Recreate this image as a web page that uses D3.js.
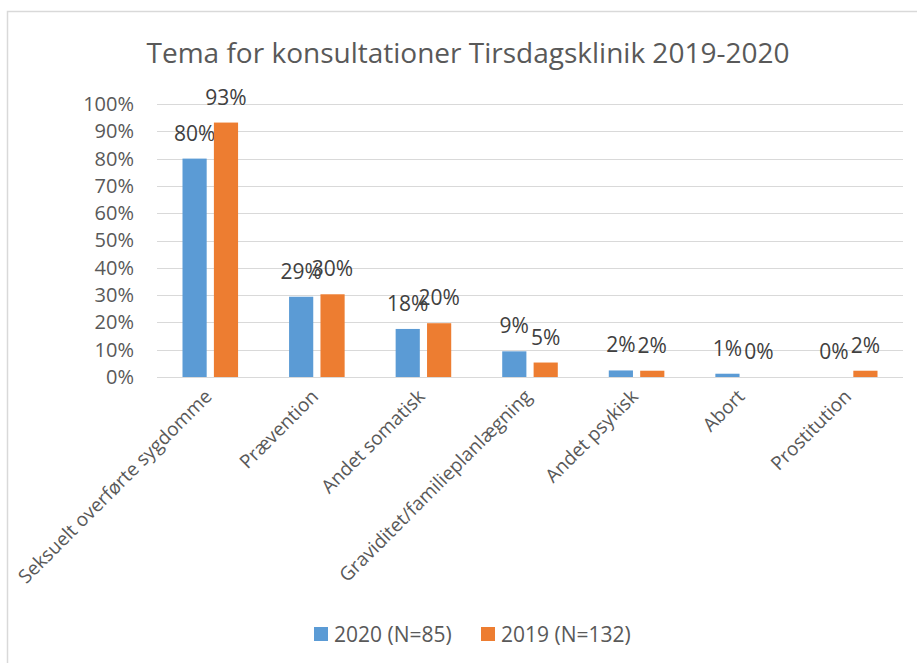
<!DOCTYPE html>
<html>
<head>
<meta charset="utf-8">
<script src="https://cdn.jsdelivr.net/npm/d3@7"></script>
<style>
body { margin: 0; background: #fff; }
text { font-family: "Open Sans", sans-serif; }
</style>
</head>
<body>
<script>
var categories = ["Seksuelt overførte sygdomme", "Prævention", "Andet somatisk",
	"Graviditet/familieplanlægning", "Andet psykisk", "Abort", "Prostitution"];
var series2020 = [0.80, 0.294, 0.176, 0.094, 0.024, 0.012, 0];
var series2019 = [0.932, 0.303, 0.197, 0.053, 0.023, 0, 0.023];
var seriesNames = ["2020 (N=85)", "2019 (N=132)"];
var colors = ["#5B9BD5", "#ED7D31"];
var yTicks = [0, 0.1, 0.2, 0.3, 0.4, 0.5, 0.6, 0.7, 0.8, 0.9, 1.0];

var width = 917, height = 663;
var margin = {left: 157, right: 14, top: 104, bottom: 286};
var plotW = width - margin.left - margin.right;
var plotH = height - margin.top - margin.bottom;

var svg = d3.select("body").append("svg")
	.attr("width", width)
	.attr("height", height);

// chart frame
svg.append("path")
	.attr("d", "M7.5," + height + "V11.5H" + width)
	.attr("fill", "none")
	.attr("stroke", "#D9D9D9")
	.attr("stroke-width", 1.5);

svg.append("text")
	.attr("x", 468)
	.attr("y", 63)
	.attr("text-anchor", "middle")
	.attr("fill", "#595959")
	.style("font-size", "28px")
	.text("Tema for konsultationer Tirsdagsklinik 2019-2020");

var g = svg.append("g")
	.attr("transform", "translate(" + margin.left + "," + margin.top + ")");

var x = d3.scaleBand()
	.domain(categories)
	.range([0, plotW]);

var x1 = d3.scaleBand()
	.domain([0, 1])
	.range([25.5, x.bandwidth() - 25.5])
	.paddingInner(0.23);

var y = d3.scaleLinear()
	.domain([0, 1])
	.range([plotH, 0]);

// gridlines
g.selectAll(".grid")
	.data(yTicks)
	.enter().append("line")
	.attr("x1", 0)
	.attr("x2", plotW)
	.attr("y1", function(d) { return Math.round(y(d)) + 0.5; })
	.attr("y2", function(d) { return Math.round(y(d)) + 0.5; })
	.attr("stroke", "#D9D9D9")
	.attr("stroke-width", 1.2);

var yAxis = g.append("g")
	.call(d3.axisLeft(y).tickValues(yTicks).tickFormat(d3.format(".0%")).tickSize(0).tickPadding(23));
yAxis.select(".domain").remove();
yAxis.selectAll("text")
	.attr("fill", "#595959")
	.style("font-size", "20px")
	.style("font-family", "'Open Sans', sans-serif");

var data = [series2020, series2019];

data.forEach(function(vals, s) {
	g.selectAll(".bar" + s)
		.data(vals)
		.enter().append("rect")
		.attr("x", function(d, i) { return x(categories[i]) + x1(s); })
		.attr("width", x1.bandwidth())
		.attr("y", function(d) { return y(d); })
		.attr("height", function(d) { return plotH - y(d); })
		.attr("fill", colors[s]);

	g.selectAll(".lab" + s)
		.data(vals)
		.enter().append("text")
		.attr("x", function(d, i) { return x(categories[i]) + x1(s) + x1.bandwidth() / 2; })
		.attr("y", function(d) { return y(d) - 18; })
		.attr("text-anchor", "middle")
		.attr("fill", "#404040")
		.style("font-size", "21px")
		.text(function(d) { return Math.round(d * 100) + "%"; });
});

// category labels
g.selectAll(".cat")
	.data(categories)
	.enter().append("text")
	.attr("transform", function(d) {
		return "translate(" + (x(d) + x.bandwidth() / 2 - 2) + "," + (plotH + 16) + ") rotate(-45)";
	})
	.attr("text-anchor", "end")
	.attr("dy", "0.35em")
	.attr("fill", "#595959")
	.style("font-size", "19px")
	.text(function(d) { return d; });

// legend
var legendX = [314, 481];
seriesNames.forEach(function(name, s) {
	svg.append("rect")
		.attr("x", legendX[s])
		.attr("y", 627)
		.attr("width", 14)
		.attr("height", 14)
		.attr("fill", colors[s]);
	svg.append("text")
		.attr("x", legendX[s] + 20)
		.attr("y", 642)
		.attr("fill", "#595959")
		.style("font-size", "21px")
		.text(name);
});
</script>
</body>
</html>
